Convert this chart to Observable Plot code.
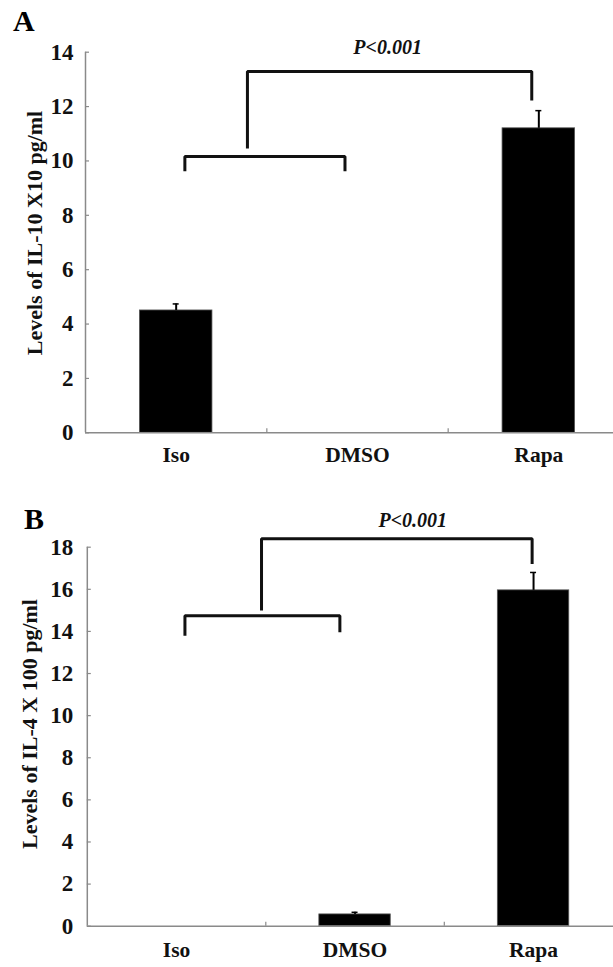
<!DOCTYPE html>
<html>
<head>
<meta charset="utf-8">
<script src="https://cdn.jsdelivr.net/npm/d3@7"></script>
<script src="https://cdn.jsdelivr.net/npm/@observablehq/plot@0.6"></script>
<style>
  html, body { margin: 0; padding: 0; background: #fff; overflow: hidden; }
  #root { position: relative; width: 613px; height: 967px; overflow: hidden; background: #fff; }
  #root svg, #root svg text { font-family: "Liberation Serif", "Times New Roman", serif !important; font-weight: bold; }
  #root svg g[aria-label="y-axis tick label"], #root svg g[aria-label="y-axis tick label"] text { font-size: 23px !important; }
  .panel { position: absolute; left: 0; z-index: 1; }
  .letter { position: absolute; z-index: 2; font-family: "Liberation Serif", "Times New Roman", serif; font-weight: bold; font-size: 30px; line-height: 30px; color: #000; }
</style>
</head>
<body>
<div id="root">
  <div class="letter" style="left:13px; top:6px;">A</div>
  <div class="letter" style="left:24px; top:504px;">B</div>
</div>
<script>
// ---- data ----
const categories = ["Iso", "DMSO", "Rapa"];

// Panel A: IL-10 (x10 pg/ml)
const il10Values = [4.5, 0, 11.2];
const il10Errors = [0.24, 0, 0.65];
const il10Ticks = [0, 2, 4, 6, 8, 10, 12, 14];
const il10Label = "Levels of IL-10 X10 pg/ml";
// significance brackets (x in category-index units, y in data units)
const il10BracketLower = [[0.048, 9.62], [0.048, 10.16], [0.931, 10.16], [0.931, 9.62]];
const il10BracketUpper = [[0.393, 10.46], [0.393, 13.29], [1.961, 13.29], [1.961, 12.22]];

// Panel B: IL-4 (x100 pg/ml)
const il4Values = [0, 0.56, 15.95];
const il4Errors = [0, 0.1, 0.85];
const il4Ticks = [0, 2, 4, 6, 8, 10, 12, 14, 16, 18];
const il4Label = "Levels of IL-4 X 100 pg/ml";
const il4BracketLower = [[0.047, 13.8], [0.047, 14.75], [0.915, 14.75], [0.915, 13.96]];
const il4BracketUpper = [[0.476, 14.99], [0.476, 18.4], [1.992, 18.4], [1.992, 17.2]];

const pText = "P<0.001";

// ---- drawing ----
const AXIS = "#8a8a8a";

function panel(cfg) {
  const rows = categories.map((c, i) => ({cat: c, i, v: cfg.values[i], e: cfg.errors[i]}));
  const bars = rows.filter(d => d.v > 0);
  const errs = rows.filter(d => d.e > 0);
  const upper = cfg.upper;
  const pPos = [{x: (upper[1][0] + upper[2][0]) / 2, y: upper[1][1], t: pText}];
  return Plot.plot({
    width: 613,
    height: cfg.height,
    marginLeft: cfg.ml,
    marginRight: cfg.mr,
    marginTop: cfg.mt,
    marginBottom: cfg.mb,
    style: {fontSize: "21px", background: "white", color: "#000", overflow: "visible"},
    x: {type: "linear", domain: [-0.5, 2.5]},
    y: {domain: [0, cfg.ticks[cfg.ticks.length - 1]]},
    marks: [
      Plot.rectY(bars, {x1: d => d.i - 0.2, x2: d => d.i + 0.2, y1: 0, y2: "v", fill: "#000", stroke: "#555", strokeWidth: 0.8}),
      Plot.ruleX(errs, {x: "i", y1: "v", y2: d => d.v + d.e, stroke: "#000", strokeWidth: 2}),
      Plot.ruleY(errs, {y: d => d.v + d.e, x1: "i", x2: "i", insetLeft: -3, insetRight: -3, stroke: "#000", strokeWidth: 1.5}),
      Plot.ruleX([-0.5], {stroke: AXIS, strokeWidth: 1.5}),
      Plot.ruleY([0], {stroke: AXIS, strokeWidth: 1.5}),
      Plot.axisY({ticks: cfg.ticks, tickSize: -4, tickPadding: cfg.tp, stroke: AXIS, strokeWidth: 1.2, label: null, fontSize: 23, fill: "#111"}),
      Plot.axisX({ticks: [0, 1, 2], tickSize: 0, tickPadding: cfg.xtp, tickFormat: i => categories[i], label: null, fontSize: 21.5, fill: "#111"}),
      Plot.axisX({ticks: [0.5, 1.5], tickSize: -4, tickFormat: () => "", stroke: AXIS, strokeWidth: 1.2, label: null}),
      Plot.line(cfg.lower, {x: d => d[0], y: d => d[1], stroke: "#111", strokeWidth: 3, strokeLinejoin: "miter", strokeLinecap: "butt"}),
      Plot.line(cfg.upper, {x: d => d[0], y: d => d[1], stroke: "#111", strokeWidth: 3, strokeLinejoin: "miter", strokeLinecap: "butt"}),
      Plot.text(pPos, {x: "x", y: "y", text: "t", dx: cfg.pdx, dy: cfg.pdy, lineAnchor: "bottom", fontStyle: "italic", fontWeight: "bold", fontSize: 20, fill: "#111"}),
      Plot.text([cfg.label], {frameAnchor: "left", textAnchor: "middle", rotate: -90, dx: cfg.ldx, dy: cfg.ldy, fontSize: 22, fontWeight: "bold", fill: "#111"})
    ]
  });
}

const root = document.getElementById("root");

const a = panel({
  values: il10Values, errors: il10Errors, ticks: il10Ticks, label: il10Label,
  lower: il10BracketLower, upper: il10BracketUpper,
  height: 480, ml: 85, mr: -16, mt: 51.7, mb: 47.7, tp: 16, xtp: 14,
  pdx: -2, pdy: -18, ldx: -51, ldy: -9.5
});
a.classList.add("panel");
a.style.top = "0px";
root.appendChild(a);

const b = panel({
  values: il4Values, errors: il4Errors, ticks: il4Ticks, label: il4Label,
  lower: il4BracketLower, upper: il4BracketUpper,
  height: 487, ml: 86.8, mr: -9.3, mt: 66.7, mb: 41.3, tp: 18, xtp: 15.4,
  pdx: 16, pdy: -11.3, ldx: -57, ldy: -12.7
});
b.classList.add("panel");
b.style.top = "480px";
root.appendChild(b);
</script>
</body>
</html>
